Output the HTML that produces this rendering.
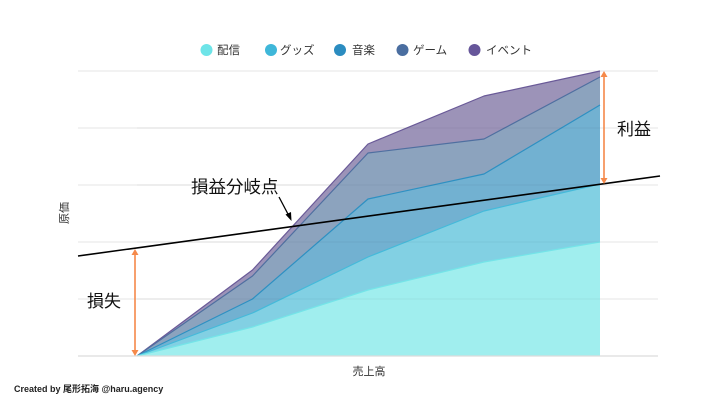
<!DOCTYPE html>
<html><head><meta charset="utf-8"><style>
html,body{margin:0;padding:0;background:#fff;}
svg{display:block;}
text{font-family:"Liberation Sans","Noto Sans CJK JP",sans-serif;}
</style></head><body>
<svg width="720" height="405" viewBox="0 0 720 405" xmlns="http://www.w3.org/2000/svg">
<rect width="720" height="405" fill="#fff"/>
<g stroke="#ebebeb" stroke-width="1.2">
<line x1="78" y1="71" x2="658" y2="71"/>
<line x1="78" y1="128" x2="658" y2="128"/>
<line x1="78" y1="185" x2="658" y2="185"/>
<line x1="78" y1="242" x2="658" y2="242"/>
<line x1="78" y1="299" x2="658" y2="299"/>
</g>
<polygon points="137,356 252.5,270 368,144 484,96 600,71 600,356" fill="#9c93b8"/>
<polygon points="137,356 252.5,276 368,153 484,139 600,77 600,356" fill="#8ca3be"/>
<polygon points="137,356 252.5,299 368,199 484,174 600,105 600,356" fill="#72b1d1"/>
<polygon points="137,356 252.5,313 368,257 484,211 600,184 600,356" fill="#82d0e3"/>
<polygon points="137,356 252.5,327 368,290 484,262 600,242 600,356" fill="#a0eeee"/>
<g fill="none" stroke-width="1.2" stroke-linejoin="round">
<polyline points="137,356 252.5,270 368,144 484,96 600,71" stroke="#6a5a98"/>
<polyline points="137,356 252.5,276 368,153 484,139 600,77" stroke="#4f6fa0"/>
<polyline points="137,356 252.5,299 368,199 484,174 600,105" stroke="#2e90c2"/>
<polyline points="137,356 252.5,313 368,257 484,211 600,184" stroke="#44bada"/>
<polyline points="137,356 252.5,327 368,290 484,262 600,242" stroke="#74e4e8"/>
</g>
<g stroke="rgba(0,0,0,0.035)" stroke-width="1.2">
<line x1="137" y1="128" x2="600" y2="128"/>
<line x1="137" y1="185" x2="600" y2="185"/>
<line x1="137" y1="242" x2="600" y2="242"/>
<line x1="137" y1="299" x2="600" y2="299"/>
</g>
<line x1="78" y1="356" x2="658" y2="356" stroke="#dcdcdc" stroke-width="1.2"/>
<line x1="78" y1="256" x2="660" y2="176" stroke="#000" stroke-width="1.6"/>
<g stroke="#f5894a" stroke-width="1.6" fill="#f5894a">
<line x1="135" y1="252" x2="135" y2="353"/>
<polygon points="135,249 131.5,255 138.5,255" stroke="none"/>
<polygon points="135,356 131.5,350 138.5,350" stroke="none"/>
<line x1="604" y1="74" x2="604" y2="181"/>
<polygon points="604,71 600.5,77 607.5,77" stroke="none"/>
<polygon points="604,184 600.5,178 607.5,178" stroke="none"/>
</g>
<line x1="279" y1="197" x2="289" y2="216" stroke="#000" stroke-width="1.3"/>
<polygon points="291.5,221 285.5,214.5 291,212" fill="#000"/>
<text x="87" y="307" font-size="17" fill="#111">損失</text>
<text x="617" y="135" font-size="17" fill="#111">利益</text>
<text x="191" y="193" font-size="17.5" fill="#111">損益分岐点</text>
<text x="369" y="375" font-size="11" fill="#333" text-anchor="middle">売上高</text>
<text transform="translate(68,213) rotate(-90)" font-size="11" fill="#333" text-anchor="middle">原価</text>
<g font-size="11.5" fill="#333">
<circle cx="206.5" cy="50" r="6" fill="#6ee4e8"/><text x="217" y="54">配信</text>
<circle cx="271" cy="50" r="6" fill="#3fb7d9"/><text x="280" y="54">グッズ</text>
<circle cx="340" cy="50" r="6" fill="#2b8cc0"/><text x="352" y="54">音楽</text>
<circle cx="402.5" cy="50" r="6" fill="#4a6ea0"/><text x="413" y="54">ゲーム</text>
<circle cx="474.5" cy="50" r="6" fill="#66569a"/><text x="486" y="54">イベント</text>
</g>
<text x="14" y="392" font-size="9" font-weight="bold" fill="#222">Created by 尾形拓海 @haru.agency</text>
</svg>
</body></html>
